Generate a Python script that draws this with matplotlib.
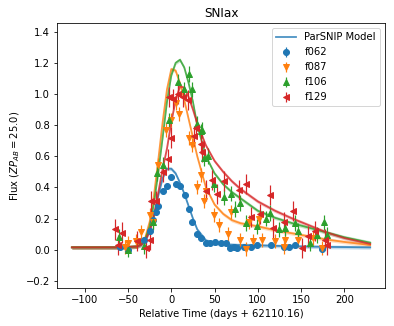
import numpy as np
import matplotlib
matplotlib.use("Agg")
import matplotlib.pyplot as plt

TITLE = "SNIax"
BANDS = ["f062", "f087", "f106", "f129"]
COLORS = ["C0", "C1", "C2", "C3"]
MARKERS = ["o", "v", "^", "<"]

obs_f062 = [(-59, 0.02), (-50, 0.0), (-32, 0.06), (-25, 0.12), (-21, 0.19), (-17.6, 0.24),
            (-15, 0.28), (-10, 0.38), (-5.5, 0.41), (0, 0.47), (5.4, 0.42), (10, 0.41),
            (15.7, 0.35), (20.7, 0.26), (24.5, 0.18), (30, 0.10), (34, 0.075), (40, 0.045),
            (45, 0.045), (51, 0.05), (58, 0.045), (63, 0.045), (68, 0.01), (72, 0.015),
            (76, 0.01), (84, 0.02), (92, 0.02), (99, 0.03), (115, 0.03), (130, 0.02),
            (136, 0.02), (143, 0.03), (174, 0.005)]
obs_f087 = [(-54, 0.017), (-50, 0.043), (-40.6, 0.053), (-35, 0.113), (-25, 0.22), (-21, 0.18),
            (-15.7, 0.545), (-6, 0.77), (0, 0.83), (5.4, 0.94), (9, 0.87), (21, 0.72),
            (24.5, 0.67), (30, 0.40), (34, 0.48), (38, 0.31), (40, 0.375), (49, 0.22),
            (55, 0.16), (65, 0.10), (68.6, 0.245), (80, 0.064), (86, 0.005), (89.6, 0.18),
            (95, 0.053), (101, 0.20), (105, 0.064), (120, 0.053), (130, 0.017), (132, 0.06),
            (147, 0.064), (164, 0.075), (174, 0.01)]
obs_f106 = [(-60, 0.08), (-50, 0.0), (-31, 0.025), (-20.7, 0.175), (-17, 0.49), (-10, 0.545),
            (-2.3, 0.83), (7.3, 1.08), (15, 1.03), (20.7, 1.13), (24.5, 1.03), (30, 0.81),
            (34, 0.76), (36, 0.77), (38, 0.59), (42, 0.60), (49, 0.42), (61, 0.34),
            (68.6, 0.36), (74, 0.26), (80, 0.30), (86, 0.17), (99, 0.15), (109, 0.20),
            (114.6, 0.235), (124, 0.13), (132, 0.14), (143, 0.17), (147, 0.12),
            (160.6, 0.043), (168, 0.095), (176, 0.175), (180, 0.095)]
obs_f129 = [(-65.5, 0.13), (-62, 0.03), (-57, 0.11), (-39.5, 0.057), (-29, 0.01), (-25, 0.06),
            (-23, 0.31), (-17.6, 0.31), (-10, 0.50), (-4, 0.58), (0, 0.72), (-2.3, 0.98),
            (2, 0.97), (7.3, 1.0), (13, 0.98), (18.8, 0.96), (26.4, 0.73), (28.4, 0.78),
            (34, 0.68), (36, 0.63), (40, 0.38), (47.5, 0.45), (53, 0.36), (61, 0.44),
            (78, 0.385), (86, 0.42), (91.6, 0.21), (103, 0.23), (114.6, 0.35), (118, 0.14),
            (130, 0.18), (141, 0.25), (151, 0.01), (158.6, 0.085), (166, 0.12),
            (178, 0.065), (180, 0.03)]
obs_err = [0.015, 0.045, 0.05, 0.065]

# ParSNIP model curves
model_time = [-115, -60, -40, -35, -30, -25, -20, -15, -10, -5, 0, 5, 10, 15, 20, 25, 30,
              40, 50, 60, 70, 80, 100, 120, 140, 160, 180, 200, 230]
model_f062 = [0.015, 0.015, 0.02, 0.03, 0.06, 0.12, 0.22, 0.35, 0.46, 0.52, 0.52, 0.49, 0.43,
              0.36, 0.28, 0.20, 0.13, 0.06, 0.04, 0.035, 0.032, 0.03, 0.028, 0.025, 0.022,
              0.02, 0.018, 0.017, 0.015]
model_f087 = [0.015, 0.015, 0.02, 0.04, 0.08, 0.18, 0.35, 0.58, 0.82, 1.03, 1.16, 1.15, 1.07,
              0.96, 0.84, 0.72, 0.60, 0.40, 0.29, 0.23, 0.19, 0.17, 0.15, 0.125, 0.105,
              0.085, 0.065, 0.05, 0.03]
model_f106 = [0.015, 0.015, 0.02, 0.035, 0.07, 0.15, 0.30, 0.50, 0.72, 0.95, 1.12, 1.20, 1.22,
              1.17, 1.07, 0.95, 0.80, 0.60, 0.49, 0.42, 0.37, 0.33, 0.25, 0.205, 0.17,
              0.14, 0.11, 0.08, 0.045]
model_f129 = [0.015, 0.015, 0.02, 0.03, 0.06, 0.12, 0.22, 0.37, 0.52, 0.65, 0.82, 0.96, 1.05,
              1.04, 0.98, 0.90, 0.81, 0.67, 0.57, 0.50, 0.44, 0.39, 0.31, 0.25, 0.20,
              0.155, 0.11, 0.075, 0.037]
model_spread = 0.012

observations = [obs_f062, obs_f087, obs_f106, obs_f129]
models = [model_f062, model_f087, model_f106, model_f129]


def main():
    fig = plt.figure(figsize=(394 / 72, 326 / 72), dpi=72)
    ax = fig.add_axes([0.145, 0.117, 0.832, 0.812])

    t_model = np.array(model_time)
    for i, band in enumerate(BANDS):
        obs = np.array(observations[i])
        ax.errorbar(obs[:, 0], obs[:, 1], yerr=obs_err[i], fmt=MARKERS[i],
                    c=COLORS[i], label=band, markersize=6, elinewidth=1.2)
        flux = np.array(models[i])
        label = "ParSNIP Model" if i == 0 else None
        ax.plot(t_model, flux, c=COLORS[i], lw=1.8, alpha=0.8, label=label)
        ax.fill_between(t_model, flux - model_spread, flux + model_spread,
                        color=COLORS[i], alpha=0.25, lw=0)

    ax.set_xlim(-132, 247)
    ax.set_ylim(-0.245, 1.455)
    ax.set_title(TITLE)
    ax.set_xlabel("Relative Time (days + 62110.16)")
    ax.set_ylabel("Flux ($ZP_{AB} = 25.0$)")
    ax.legend(loc="upper right")

    fig.savefig("out.png", dpi=72)
    plt.close(fig)


if __name__ == "__main__":
    main()
